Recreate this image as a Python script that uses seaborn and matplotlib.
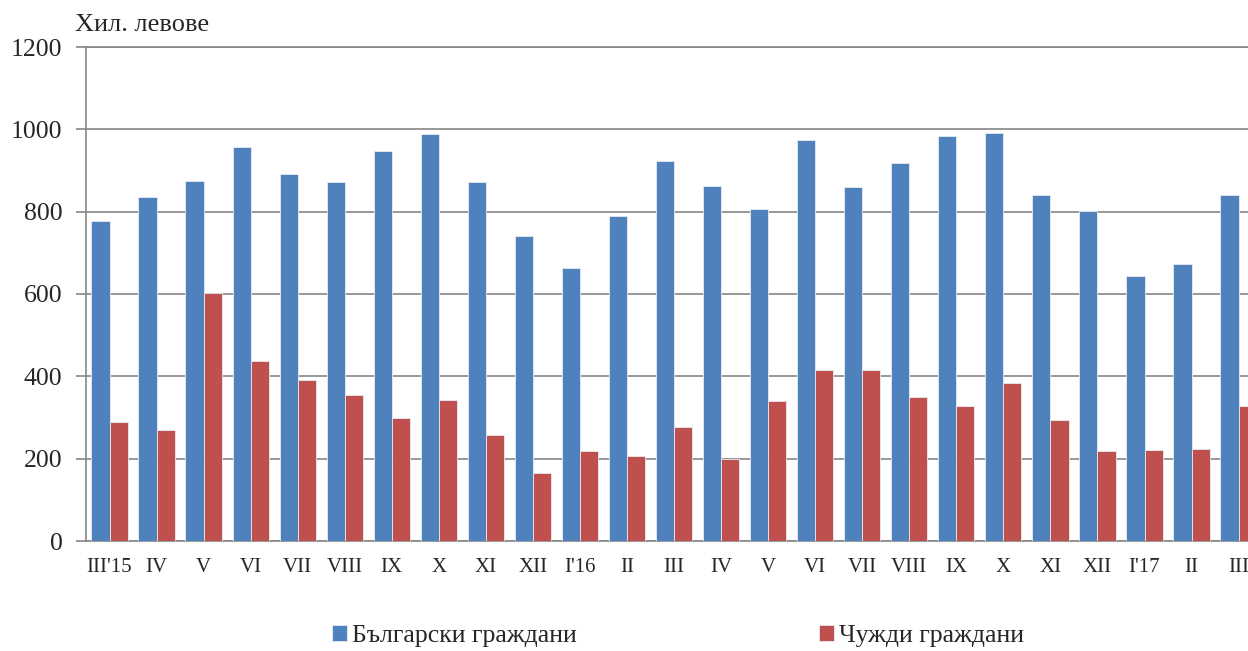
import numpy as np
import pandas as pd
import matplotlib
matplotlib.use("Agg")
import matplotlib.pyplot as plt
import seaborn as sns

months = ["III'15", "IV", "V", "VI", "VII", "VIII", "IX", "X", "XI", "XII",
          "I'16", "II", "III", "IV", "V", "VI", "VII", "VIII", "IX", "X",
          "XI", "XII", "I'17", "II", "III"]
bulgarian = [777, 835, 874, 956, 891, 872, 947, 989, 873, 740,
             664, 789, 924, 862, 807, 973, 861, 918, 984, 990,
             840, 801, 643, 672, 840]
foreign = [289, 269, 602, 438, 392, 355, 298, 342, 257, 165,
           218, 207, 276, 199, 339, 415, 415, 349, 328, 383,
           293, 219, 220, 223, 328]
series_names = ["Български граждани", "Чужди граждани"]
series_colors = ["#4F81BD", "#C0504D"]
y_ticks = [0, 200, 400, 600, 800, 1000, 1200]
y_unit = "Хил. левове"

# month labels repeat, so use the position as the category key
pos = [str(i) for i in range(len(months))]
df = pd.DataFrame({
    "pos": pos * 2,
    "value": bulgarian + foreign,
    "series": [series_names[0]] * len(pos) + [series_names[1]] * len(pos),
})

sns.set_style("white")
plt.rcParams["font.family"] = ["Liberation Serif", "DejaVu Serif"]

fig = plt.figure(figsize=(12.48, 6.51), dpi=100)
ax = fig.add_axes([86 / 1248, 110 / 651, 1 - 86 / 1248, 494 / 651])

sns.barplot(data=df, x="pos", y="value", hue="series", order=pos,
            hue_order=series_names, palette=series_colors, width=0.77,
            edgecolor="#e6ecf4", linewidth=0.6, saturation=1, ax=ax, zorder=3)

grid_col = "#868686"
ax.set_yticks(y_ticks)
ax.set_yticklabels([str(v) for v in y_ticks], fontsize=18.5)
ax.yaxis.grid(True, color=grid_col, linewidth=1.2, zorder=0)
ax.set_axisbelow(True)

ax.set_xticks(range(len(months)))
ax.set_xticklabels(months, fontsize=15)
ax.set_xticks(np.arange(-0.5, len(months), 1), minor=True)
# set limits after the ticks, since set_xticks can widen the view
ax.set_ylim(0, 1200)
ax.set_xlim(-0.5, 24.2)
ax.tick_params(axis="x", which="major", length=0, pad=12)
ax.tick_params(axis="x", which="minor", length=5, width=1.2, color=grid_col, direction="out")
ax.tick_params(axis="y", length=7, width=1.2, color=grid_col, direction="out", pad=10, left=True)
ax.set_xlabel("")
ax.set_ylabel("")

for side in ["left", "bottom", "top"]:
    ax.spines[side].set_color(grid_col)
    ax.spines[side].set_linewidth(1.2)
ax.spines["right"].set_visible(False)

fig.text(75 / 1248, 1 - 25 / 651, y_unit, fontsize=19, va="center", ha="left")

handles, labels = ax.get_legend_handles_labels()
ax.legend_.remove()
fig.legend(handles, labels, loc="center", bbox_to_anchor=(678 / 1248, 1 - 636 / 651),
           ncol=2, frameon=False, fontsize=18.5, handlelength=0.6, handleheight=0.6,
           handletextpad=0.2, columnspacing=9.4)

fig.savefig("out.png", dpi=100)
